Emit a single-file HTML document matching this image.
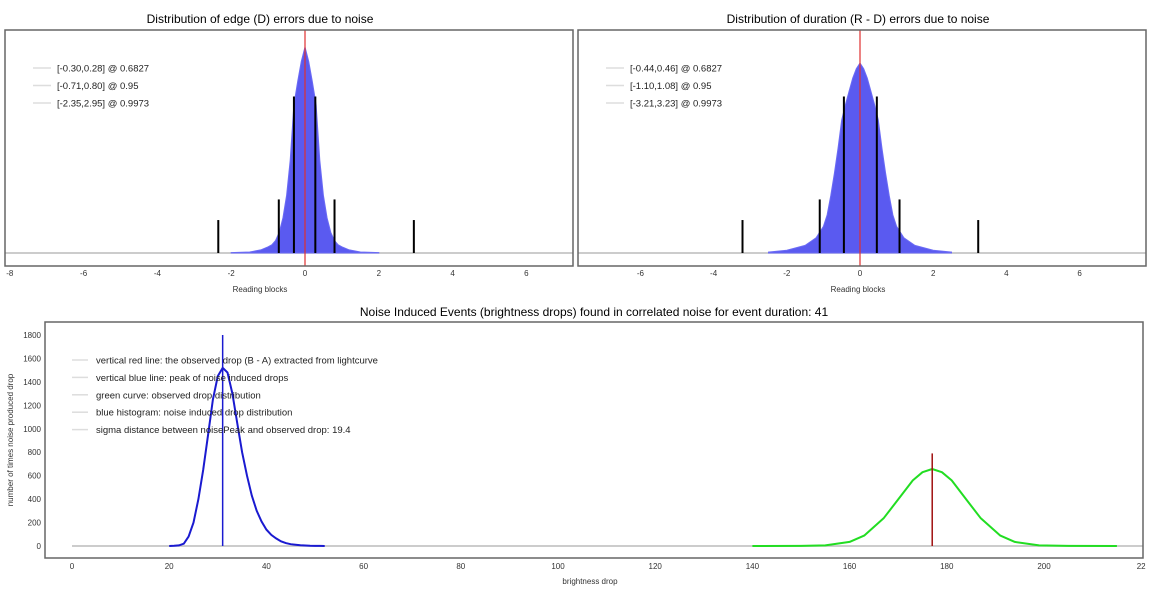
<!DOCTYPE html>
<html><head><meta charset="utf-8">
<style>
html,body{margin:0;padding:0;background:#fff;width:1152px;height:590px;overflow:hidden}
svg{display:block;font-family:"Liberation Sans",sans-serif}
</style></head>
<body>
<svg id="chart" width="1152" height="590" viewBox="0 0 1152 590"></svg>
<script>
// ---- top-left: edge errors ----
const edgeX = [-2,-1.5,-1.2,-1.0,-0.9,-0.8,-0.7,-0.6,-0.5,-0.4,-0.3,-0.2,-0.1,0,0.1,0.2,0.3,0.4,0.5,0.6,0.7,0.8,0.9,1.0,1.2,1.5,2];
const edgeY = [0.002,0.005,0.015,0.03,0.04,0.06,0.1,0.17,0.28,0.45,0.72,0.83,0.93,1.0,0.93,0.83,0.72,0.45,0.28,0.17,0.1,0.06,0.04,0.03,0.015,0.005,0.002];
const edgeBounds = [[-0.30,0.28],[-0.71,0.80],[-2.35,2.95]];
const edgeLegend = ["[-0.30,0.28] @ 0.6827","[-0.71,0.80] @ 0.95","[-2.35,2.95] @ 0.9973"];
// ---- top-right: duration errors ----
const durX = [-2.5,-2,-1.5,-1.2,-1.0,-0.9,-0.8,-0.7,-0.6,-0.5,-0.4,-0.3,-0.2,-0.1,0,0.1,0.2,0.3,0.4,0.5,0.6,0.7,0.8,0.9,1.0,1.2,1.5,2,2.5];
const durY = [0.005,0.015,0.04,0.08,0.14,0.2,0.3,0.42,0.55,0.7,0.78,0.85,0.92,0.97,1.0,0.97,0.92,0.85,0.78,0.7,0.55,0.42,0.3,0.2,0.14,0.08,0.04,0.015,0.005];
const durBounds = [[-0.44,0.46],[-1.10,1.08],[-3.21,3.23]];
const durLegend = ["[-0.44,0.46] @ 0.6827","[-1.10,1.08] @ 0.95","[-3.21,3.23] @ 0.9973"];
const topTicks = [-8,-6,-4,-2,0,2,4,6];
const boundHeights = [0.76, 0.26, 0.16];
// ---- bottom ----
const blueX = [20,21,22,23,24,25,26,27,28,29,30,31,32,33,34,35,36,37,38,39,40,41,42,43,44,45,46,47,48,49,50,51,52];
const blueY = [0,2,5,20,80,200,400,650,950,1250,1450,1520,1480,1300,1050,800,600,430,300,210,140,95,65,40,25,15,10,6,4,2,1,1,0];
const greenX = [140,150,155,160,163,167,170,173,175,177,179,181,184,187,191,194,199,205,215];
const greenY = [0,1,5,35,89,236,398,560,630,657,630,560,398,236,89,35,5,1,0];
const noisePeak = [31, 1800];
const observedDrop = [177, 790];
const bottomXTicks = [0,20,40,60,80,100,120,140,160,180,200,22];
const bottomYTicks = [0,200,400,600,800,1000,1200,1400,1600,1800];
const bottomLegend = ["vertical red line: the observed drop (B - A) extracted from lightcurve","vertical blue line: peak of noise induced drops","green curve: observed drop distribution","blue histogram: noise induced drop distribution","sigma distance between noisePeak and observed drop: 19.4"];

const svg = document.getElementById('chart');
const NS = 'http://www.w3.org/2000/svg';
function mk(tag, attrs, parent, text){
  const e = document.createElementNS(NS, tag);
  for (const k in attrs) e.setAttribute(k, attrs[k]);
  if (text !== undefined) e.textContent = text;
  (parent||svg).appendChild(e);
  return e;
}

function topPanel(opt){
  const g = mk('g', {});
  
  
  const sx = v => opt.x0 + v*opt.k;
  const base = 253, peakH = opt.peakH;
  const sy = v => base - v*peakH;
  const t = mk('text', {x:opt.tx, y:23, 'font-size':12, 'text-anchor':'middle', fill:'#000'}, g, opt.title);
  
  
  // baseline
  mk('line', {x1:opt.l, x2:opt.r, y1:base, y2:base, stroke:'#bbb', 'stroke-width':1.5}, g);
  // histogram area
  let d = 'M'+sx(opt.hx[0])+','+base;
  opt.hx.forEach((x,i)=>{ d += ' L'+sx(x).toFixed(1)+','+sy(opt.hy[i]).toFixed(1); });
  d += ' L'+sx(opt.hx[opt.hx.length-1])+','+base+' Z';
  const h = mk('path', {d:d, fill:'#5a5af0', stroke:'#6b6bf5', 'stroke-width':1}, g);
  
  
  // bounds
  opt.bounds.forEach((b,i)=>{
    b.forEach(v=>{
      const ln = mk('line', {x1:sx(v), x2:sx(v), y1:base, y2:base-boundHeights[i]*206, stroke:'#000', 'stroke-width':2}, g);
      
      
    });
  });
  // red zero
  const rl = mk('line', {x1:sx(0), x2:sx(0), y1:30, y2:266, stroke:'#e03030', 'stroke-width':1.2}, g);
  
  
  // frame
  const fr = mk('rect', {x:opt.l, y:30, width:opt.r-opt.l, height:236, fill:'none', stroke:'#666', 'stroke-width':1.5}, g);
  
  
  // ticks
  topTicks.forEach(v=>{
    const px = sx(v);
    if (px < opt.l-4 || px > opt.r) return;
    const tl = mk('text', {x:px, y:276, 'font-size':8, 'text-anchor':'middle', fill:'#333'}, g, v);
    
    
  });
  const xl = mk('text', {x:opt.tx, y:292, 'font-size':8, 'text-anchor':'middle', fill:'#333'}, g, 'Reading blocks');
  
  
  opt.legend.forEach((s,i)=>{
    const y = 68 + i*17.5;
    mk('line', {x1:opt.l+28, x2:opt.l+46, y1:y, y2:y, stroke:'#ddd', 'stroke-width':1.5}, g);
    const lt = mk('text', {x:opt.l+52, y:y+3.5, 'font-size':9.5, fill:'#222'}, g, s);
    
    
  });
}
topPanel({name:'edge-error-panel', title:'Distribution of edge (D) errors due to noise', l:5, r:573, x0:305, k:36.9, tx:260, hx:edgeX, hy:edgeY, bounds:edgeBounds, legend:edgeLegend, peakH:206});
topPanel({name:'duration-error-panel', title:'Distribution of duration (R - D) errors due to noise', l:578, r:1146, x0:860, k:36.6, tx:858, hx:durX, hy:durY, bounds:durBounds, legend:durLegend, peakH:190});

// bottom panel
(function(){
  const g = mk('g', {});
  
  
  const L=45, R=1143, T=322, B=558;
  const sx = v => 72 + v*4.86;
  const sy = v => 546 - v*0.1172;
  const t = mk('text', {x:594, y:316, 'font-size':12, 'text-anchor':'middle', fill:'#000'}, g, 'Noise Induced Events (brightness drops) found in correlated noise for event duration: 41');
  
  
  mk('line', {x1:sx(0), x2:R, y1:sy(0), y2:sy(0), stroke:'#bbb', 'stroke-width':1.5}, g);
  let d='';
  blueX.forEach((x,i)=>{ d += (i?' L':'M')+sx(x).toFixed(1)+','+sy(blueY[i]).toFixed(1); });
  const bh = mk('path', {d:d, fill:'none', stroke:'#1a1ad0', 'stroke-width':2}, g);
  
  
  d='';
  greenX.forEach((x,i)=>{ d += (i?' L':'M')+sx(x).toFixed(1)+','+sy(greenY[i]).toFixed(1); });
  const gc = mk('path', {d:d, fill:'none', stroke:'#22dd22', 'stroke-width':2, 'stroke-linejoin':'round'}, g);
  
  
  const bl = mk('line', {x1:sx(noisePeak[0]), x2:sx(noisePeak[0]), y1:sy(0), y2:sy(noisePeak[1]), stroke:'#1a1ad0', 'stroke-width':1.5}, g);
  
  
  const rl = mk('line', {x1:sx(observedDrop[0]), x2:sx(observedDrop[0]), y1:sy(0), y2:sy(observedDrop[1]), stroke:'#a01010', 'stroke-width':1.5}, g);
  
  
  const fr = mk('rect', {x:L, y:T, width:R-L, height:B-T, fill:'none', stroke:'#666', 'stroke-width':1.5}, g);
  
  
  bottomXTicks.forEach((v,i)=>{
    const val = (i===bottomXTicks.length-1) ? 220 : v;
    const tl = mk('text', {x:sx(val), y:569, 'font-size':8, 'text-anchor':'middle', fill:'#333'}, g, v);
    
    
  });
  bottomYTicks.forEach(v=>{
    const tl = mk('text', {x:41, y:sy(v)+3, 'font-size':8, 'text-anchor':'end', fill:'#333'}, g, v);
    
    
  });
  const xl = mk('text', {x:590, y:584, 'font-size':8, 'text-anchor':'middle', fill:'#333'}, g, 'brightness drop');
  
  
  const yl = mk('text', {x:0, y:0, 'font-size':8, 'text-anchor':'middle', fill:'#333', transform:'translate(13,440) rotate(-90)'}, g, 'number of times noise produced drop');
  
  
  bottomLegend.forEach((s,i)=>{
    const y = 360 + i*17.4;
    mk('line', {x1:72, x2:88, y1:y, y2:y, stroke:'#ddd', 'stroke-width':1.5}, g);
    const lt = mk('text', {x:96, y:y+3.5, 'font-size':9.5, fill:'#222'}, g, s);
    
    
  });
})();
</script>
</body></html>
